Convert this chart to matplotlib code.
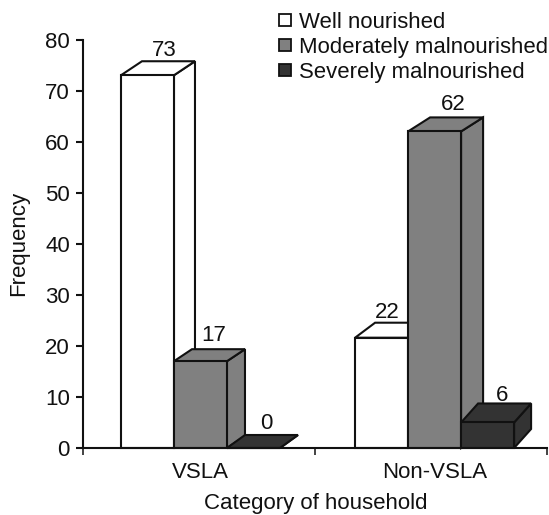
import matplotlib
matplotlib.use("Agg")
import matplotlib.pyplot as plt
from matplotlib.patches import Polygon
from matplotlib.lines import Line2D

plt.rcParams['font.family'] = ['Liberation Sans', 'DejaVu Sans']

categories = ["VSLA", "Non-VSLA"]
series_names = ["Well nourished", "Moderately malnourished", "Severely malnourished"]
drawn_heights = [[73, 17, 0], [21.6, 62, 5]]
value_labels = [[73, 17, 0], [22, 62, 6]]
y_ticks = [0, 10, 20, 30, 40, 50, 60, 70, 80]

colors = ["#ffffff", "#808080", "#333333"]
depth_px = [[(21, 14), (18, 12), (18, 13)], [(20, 15), (22, 14), (17, 19)]]
label_shift_px = [[(16.5, 5), (13.5, 8), (12.5, 6)], [(5.5, 5), (18.5, 7), (14.5, 2)]]

W, H = 549, 515
L, R, T, B = 82.5, 547.0, 39.5, 448.0
fig = plt.figure(figsize=(W / 100, H / 100), dpi=100)
ax = fig.add_axes([L / W, 1 - B / H, (R - L) / W, (B - T) / H])
ax.set_xlim(0, 2)
ax.set_ylim(0, 80)

px_x = 2 / (R - L)
px_y = 80 / (B - T)
bar_w = 53 * px_x
centers = [0.508, 1.516]
edge = "#111111"
lw = 1.5
fs = 16

for g, center in enumerate(centers):
    for i, h in enumerate(drawn_heights[g]):
        x0 = center + (i - 1.5) * bar_w
        x1 = x0 + bar_w
        dx, dy = depth_px[g][i]
        dx *= px_x
        dy *= px_y
        faces = [
            [(x1, 0), (x1 + dx, dy), (x1 + dx, h + dy), (x1, h)],
            [(x0, h), (x0 + dx, h + dy), (x1 + dx, h + dy), (x1, h)],
            [(x0, 0), (x1, 0), (x1, h), (x0, h)],
        ]
        for face in faces:
            ax.add_patch(Polygon(face, closed=True, facecolor=colors[i], edgecolor=edge,
                                 linewidth=lw, joinstyle="miter", clip_on=False, zorder=2 + i))
        sx, sy = label_shift_px[g][i]
        ax.annotate(str(value_labels[g][i]), (x0 + bar_w / 2, h + dy), xytext=(sx * 0.72, sy * 0.72),
                    textcoords="offset points", ha="center", va="baseline", fontsize=fs,
                    color="#111111", zorder=10)

for s in ("top", "right"):
    ax.spines[s].set_visible(False)
for s in ("left", "bottom"):
    ax.spines[s].set_linewidth(1.5)
    ax.spines[s].set_color(edge)
    ax.spines[s].set_zorder(8)

ax.set_yticks(y_ticks)
ax.tick_params(axis="y", length=5, width=1.5, labelsize=fs, pad=4, color=edge, labelcolor="#111111")
ax.set_xticks([0, 1, 2])
ax.set_xticklabels([])
ax.tick_params(axis="x", which="major", length=5, width=1.1, color=edge)
ax.set_xticks(centers, minor=True)
ax.set_xticklabels(categories, minor=True)
ax.tick_params(axis="x", which="minor", length=0, labelsize=fs, pad=10, labelcolor="#111111")

fig.text(19 / W, 1 - 243 / H, "Frequency", rotation=90, ha="center", va="center",
         fontsize=fs, color="#111111")
fig.text(316 / W, 1 - 503 / H, "Category of household", ha="center", va="center",
         fontsize=fs, color="#111111")

handles = [Line2D([], [], linestyle="none", marker="s", markersize=8.2, markerfacecolor=c,
                  markeredgecolor=edge, markeredgewidth=1.3) for c in colors]
fig.legend(handles, series_names, loc="upper left", bbox_to_anchor=(275 / W, 1 - 12 / H),
           frameon=False, fontsize=15.9, labelspacing=0.17, handlelength=0.9,
           handletextpad=0.18, borderpad=0, borderaxespad=0, labelcolor="#111111")

fig.savefig("out.png", dpi=100)
